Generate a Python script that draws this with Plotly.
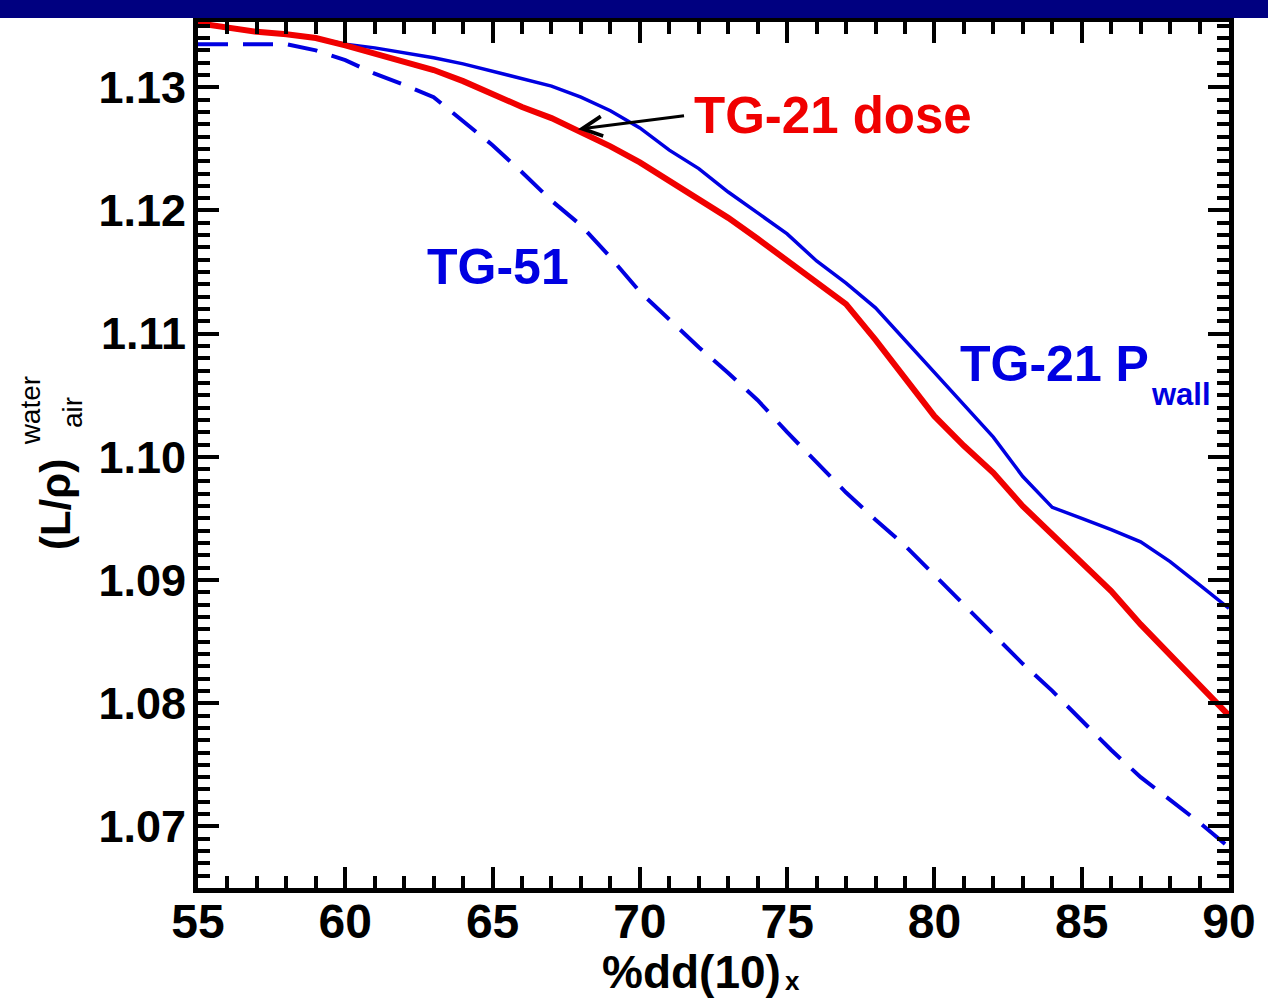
import plotly.graph_objects as go

# Percent depth dose at 10 cm, %dd(10)x
pdd = [55, 56, 57, 58, 59, 60, 61, 62, 63, 64, 65, 66, 67, 68, 69, 70, 71, 72,
       73, 74, 75, 76, 77, 78, 79, 80, 81, 82, 83, 84, 85, 86, 87, 88, 89, 90]

# Water-to-air stopping-power ratios
tg21_dose = [1.1352, 1.1348, 1.1345, 1.1343, 1.1340, 1.1334, 1.1327, 1.1321,
             1.1314, 1.1305, 1.1294, 1.1284, 1.1275, 1.1264, 1.1252, 1.1239,
             1.1224, 1.1210, 1.1194, 1.1177, 1.1159, 1.1142, 1.1124, 1.1095,
             1.1064, 1.1033, 1.1009, 1.0987, 1.0960, 1.0937, 1.0914, 1.0891,
             1.0864, 1.0839, 1.0814, 1.0790]

tg21_pwall = [1.1352, 1.1348, 1.1345, 1.1343, 1.1340, 1.1335, 1.1332, 1.1328,
              1.1324, 1.1319, 1.1313, 1.1307, 1.1301, 1.1292, 1.1281, 1.1267,
              1.1249, 1.1234, 1.1215, 1.1198, 1.1181, 1.1159, 1.1141, 1.1121,
              1.1095, 1.1068, 1.1042, 1.1016, 1.0984, 1.0959, 1.0950, 1.0941,
              1.0931, 1.0915, 1.0896, 1.0877]

tg51 = [1.1335, 1.1335, 1.1335, 1.1335, 1.1330, 1.1322, 1.1311, 1.1302,
        1.1292, 1.1273, 1.1253, 1.1231, 1.1208, 1.1188, 1.1162, 1.1134,
        1.1111, 1.1089, 1.1068, 1.1046, 1.1020, 1.0995, 1.0971, 1.0949,
        1.0928, 1.0904, 1.0880, 1.0857, 1.0832, 1.0810, 1.0786, 1.0762,
        1.0740, 1.0722, 1.0703, 1.0683]

RED = "rgb(240,0,0)"
BLUE = "rgb(0,0,225)"
FONT = "Liberation Sans"

fig = go.Figure()
fig.add_trace(go.Scatter(x=pdd, y=tg51, mode="lines",
                         line=dict(color=BLUE, width=4, dash="30px,15px")))
fig.add_trace(go.Scatter(x=pdd, y=tg21_pwall, mode="lines",
                         line=dict(color=BLUE, width=3.5)))
fig.add_trace(go.Scatter(x=pdd, y=tg21_dose, mode="lines",
                         line=dict(color=RED, width=6)))

axis_common = dict(showline=True, linecolor="black", linewidth=5, mirror="ticks",
                   ticks="inside", ticklen=21, tickwidth=3.5, tickcolor="black",
                   showgrid=False, zeroline=False)

fig.update_xaxes(range=[55, 90], dtick=5, tick0=55,
                 minor=dict(ticks="inside", dtick=1, ticklen=12, tickwidth=3.5,
                            tickcolor="black", showgrid=False),
                 tickfont=dict(family=FONT, size=48, color="black", weight="bold"),
                 ticklabelstandoff=-13, **axis_common)
fig.update_yaxes(range=[1.065, 1.1353], dtick=0.01, tick0=1.07, tickformat=".2f",
                 minor=dict(ticks="inside", dtick=0.001, ticklen=12, tickwidth=3.5,
                            tickcolor="black", showgrid=False),
                 tickfont=dict(family=FONT, size=45, color="black", weight="bold"),
                 ticklabelstandoff=-2, **axis_common)


def label(x, y, text, size, color, ref="data", angle=0, bold=True, xanchor="center"):
    return dict(x=x, y=y, xref="x" if ref == "data" else "paper",
                yref="y" if ref == "data" else "paper", text=text,
                showarrow=False, textangle=angle, xanchor=xanchor, yanchor="middle",
                font=dict(family=FONT, size=size, color=color,
                          weight="bold" if bold else "normal"))


annotations = [
    # curve labels
    label(76.57, 1.1277, "TG-21 dose", 51, RED),
    label(65.17, 1.11545, "TG-51", 50, BLUE),
    label(80.79, 1.1075, "TG-21 P", 50, BLUE, xanchor="left"),
    label(87.30, 1.1051, "wall", 31, BLUE, xanchor="left"),
    # pointer to the TG-21 dose curve
    dict(x=67.9, y=1.1266, xref="x", yref="y", ax=71.55, ay=1.1277,
         axref="x", ayref="y", text="", showarrow=True, arrowhead=5,
         arrowsize=1.3, arrowwidth=3, arrowcolor="black"),
    # y-axis title
    label(-0.1376, 0.4423, "(L/ρ)", 42, "black", ref="paper", angle=-90),
    label(-0.1626, 0.5508, "water", 28, "black", ref="paper", angle=-90, bold=False),
    label(-0.1212, 0.5485, "air", 28, "black", ref="paper", angle=-90, bold=False),
    # x-axis title
    label(0.4784, -0.0971, "%dd(10)", 46, "black", ref="paper"),
    label(0.5770, -0.1074, "x", 26, "black", ref="paper"),
]

fig.update_layout(
    width=1268, height=999,
    margin=dict(l=198, r=33, t=22, b=111),
    paper_bgcolor="white", plot_bgcolor="white",
    showlegend=False,
    annotations=annotations,
    shapes=[dict(type="rect", xref="paper", yref="paper",
                 x0=-0.25, x1=1.1, y0=1.0046, y1=1.03,
                 fillcolor="rgb(0,0,128)", line=dict(width=0), layer="above")],
)

fig.write_html("out.html")
